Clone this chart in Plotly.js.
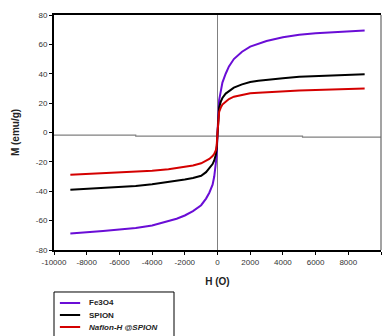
<!DOCTYPE html>
<html>
<head>
<meta charset="utf-8">
<script src="https://cdn.plot.ly/plotly-3.0.1.min.js"></script>
<style>html,body{margin:0;padding:0;background:#fff;}#chart{width:390px;height:336px;}</style>
</head>
<body>
<div id="chart"></div>
<script>
// Applied field H (Oe)
const fieldH = [-9000,-8000,-7000,-6000,-5000,-4000,-3000,-2500,-2000,-1500,-1000,-700,-500,-300,-200,-100,-50,0,50,100,200,300,500,700,1000,1500,2000,2500,3000,4000,5000,6000,7000,8000,9000];
// Magnetization M (emu/g)
const fe3o4 = [-68.7,-68,-67,-66,-65,-63.3,-60.5,-58.7,-56.5,-53.5,-49.5,-45,-41,-35.5,-30,-22,-16,0,18,22,28,34,40,45,50,55,58.5,60.6,62.3,64.8,66.5,67.5,68.3,69,69.5];
const spion = [-39,-38.5,-38,-37.3,-36.5,-35.3,-33.8,-33,-32,-31,-29.5,-27,-24.5,-21.5,-19,-15,-11,0,13,17,21,23.5,26.5,28.3,30.5,32.8,34.4,35.3,36,37,38,38.5,39,39.4,39.7];
const nafion = [-28.7,-28.2,-27.8,-27.3,-26.8,-26,-25,-24.3,-23.5,-22.5,-21,-19.5,-18,-16,-14.5,-12,-9,0,11,14,17,19,21,22.8,24.4,25.7,26.7,27.1,27.5,28,28.6,29,29.3,29.6,29.9];
// Baseline drawn slightly below zero in the original
const baseX = [-10000,-5000,-5000,5200,5200,10000];
const baseY = [-1.8,-1.8,-2.4,-2.4,-3.1,-3.1];
const seriesNames = ["<b>Fe3O4</b>","<b>SPION</b>","<b><i>Nafion-H @SPION</i></b>"];
const seriesColors = ['#6a0dd6','#000000','#d40000'];
const xTicks = [-10000,-8000,-6000,-4000,-2000,0,2000,4000,6000,8000,10000];
const yTicks = [-80,-60,-40,-20,0,20,40,60,80];

const seriesData = [fe3o4, spion, nafion];
const traces = [
  {x: baseX, y: baseY, mode:'lines', line:{color:'#808080', width:1.2}, showlegend:false, hoverinfo:'skip'}
];
seriesData.forEach((ys, i) => traces.push({
  x: fieldH, y: ys, name: seriesNames[i], mode:'lines', line:{color: seriesColors[i], width:2}, showlegend:false
}));

// manual legend (paper coordinates)
const shapes = [
  {type:'line', xref:'paper', yref:'paper', x0:1, x1:1, y0:0, y1:1, line:{color:'#666', width:1.2}},
  {type:'rect', xref:'paper', yref:'paper', x0:0.0, x1:0.367, y0:-0.40, y1:-0.1787, line:{color:'#000', width:1}, fillcolor:'rgba(0,0,0,0)'}
];
const annotations = [];
const rowY = [-0.2255, -0.2766, -0.3277];
seriesNames.forEach((n, i) => {
  shapes.push({type:'line', xref:'paper', yref:'paper', x0:0.018, x1:0.080, y0:rowY[i], y1:rowY[i], line:{color: seriesColors[i], width:2}});
  annotations.push({xref:'paper', yref:'paper', x:0.101, y:rowY[i], xanchor:'left', yanchor:'middle', text:n, showarrow:false, font:{size:8, color:'#222'}});
});

const layout = {
  width: 390, height: 336,
  margin: {l:54, r:9, t:15, b:86},
  paper_bgcolor:'#fff', plot_bgcolor:'#fff',
  font: {family:'Liberation Sans, Arial, sans-serif', size:8, color:'#333'},
  showlegend: false,
  xaxis: {
    range:[-10000,10000], tickvals:xTicks, ticktext:xTicks.map(String),
    showgrid:false, zeroline:true, zerolinecolor:'#808080', zerolinewidth:1.5,
    showline:true, linecolor:'#000', linewidth:2, mirror:true,
    ticks:'outside', ticklen:3, tickcolor:'#000', tickwidth:1,
    tickfont:{size:8, color:'#333'},
    title:{text:'<b>H (O)</b>', font:{size:10, color:'#222'}, standoff:12}
  },
  yaxis: {
    range:[-80,80], tickvals:yTicks, ticktext:yTicks.map(String),
    showgrid:false, zeroline:false,
    showline:true, linecolor:'#000', linewidth:2,
    ticks:'outside', ticklen:3, tickcolor:'#000', tickwidth:1,
    tickfont:{size:8, color:'#333'},
    title:{text:'<b>M (emu/g)</b>', font:{size:10, color:'#222'}, standoff:14}
  },
  shapes: shapes,
  annotations: annotations
};

Plotly.newPlot('chart', traces, layout, {staticPlot:true, displayModeBar:false});
</script>
</body>
</html>
